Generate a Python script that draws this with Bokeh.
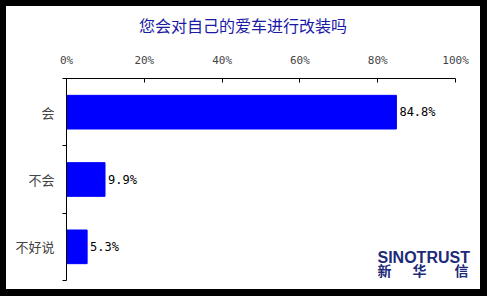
from bokeh.plotting import figure
from bokeh.layouts import column
from bokeh.models import FixedTicker, PrintfTickFormatter, Label, ColumnDataSource, Div
from bokeh.core.properties import value
from bokeh.embed import file_html
from bokeh.resources import INLINE

title_text = "您会对自己的爱车进行改装吗"
categories = ["会", "不会", "不好说"]
values = [84.8, 9.9, 5.3]
x_ticks = [0, 20, 40, 60, 80, 100]

n = len(categories)
ypos = [n - i - 0.5 for i in range(n)]
src = ColumnDataSource(dict(y=ypos, v=values, lab=[f"{v:.1f}%" for v in values]))

title_div = Div(text=title_text, width=474, height=36, margin=0,
                styles={"background-color": "white", "color": "#1A1AA6",
                        "font-family": "Noto Sans CJK SC", "font-size": "16px",
                        "text-align": "center", "line-height": "38px"})
title_div.stylesheets = [":host { background-color: white; } div { width: 100%; text-align: center; line-height: 38px; }"]

p = figure(width=474, height=247, output_backend="svg", toolbar_location=None,
           x_range=(0, 105.9), y_range=(0, n), x_axis_location="above",
           min_border_left=60, min_border_right=2, min_border_top=36, min_border_bottom=9,
           background_fill_color="white", border_fill_color="white", margin=0)
p.outline_line_color = None
p.grid.visible = False
p.title_location = None

p.hbar(y="y", right="v", left=0, height=0.5, source=src, color="#0000FF")
p.text(x="v", y="y", text="lab", source=src, x_offset=3, text_baseline="middle",
       text_font=value("DejaVu Sans Mono"), text_font_size="12px", text_color="black")

xa = p.xaxis[0]
xa.bounds = (0, 100)
xa.ticker = FixedTicker(ticks=x_ticks)
xa.formatter = PrintfTickFormatter(format="%d%%")
xa.major_tick_in = 4
xa.major_tick_out = 0
xa.minor_tick_line_color = None
xa.major_label_standoff = 12
xa.major_label_text_font = "DejaVu Sans Mono"
xa.major_label_text_font_size = "11px"
xa.axis_line_color = "black"

ya = p.yaxis[0]
ya.ticker = FixedTicker(ticks=ypos, minor_ticks=list(range(n + 1)))
ya.major_label_overrides = {y: c for y, c in zip(ypos, categories)}
ya.major_tick_line_color = None
ya.minor_tick_out = 4
ya.minor_tick_in = 0
ya.major_label_standoff = 6
ya.major_label_text_font = "Noto Sans CJK SC"
ya.major_label_text_font_size = "13px"
ya.axis_line_color = "black"

logo_color = "#1E2A78"
p.add_layout(Label(x=311, y=23, x_units="screen", y_units="screen", text="SINOTRUST",
                   text_baseline="alphabetic",
                   text_font="Liberation Sans", text_font_style="bold", text_font_size="16px",
                   text_color=logo_color))
for ch, lx in zip(["新", "华", "信"], [311, 346, 388]):
    p.add_layout(Label(x=lx, y=11, x_units="screen", y_units="screen", text=ch,
                       text_baseline="alphabetic",
                       text_font="Noto Sans CJK SC", text_font_style="bold", text_font_size="14px",
                       text_color=logo_color))

layout = column(title_div, p, spacing=0,
                styles={"background-color": "white", "border-style": "solid",
                        "border-color": "black", "border-width": "6px 7px 7px 6px"})
open("out.html", "w").write(file_html(layout, INLINE))
